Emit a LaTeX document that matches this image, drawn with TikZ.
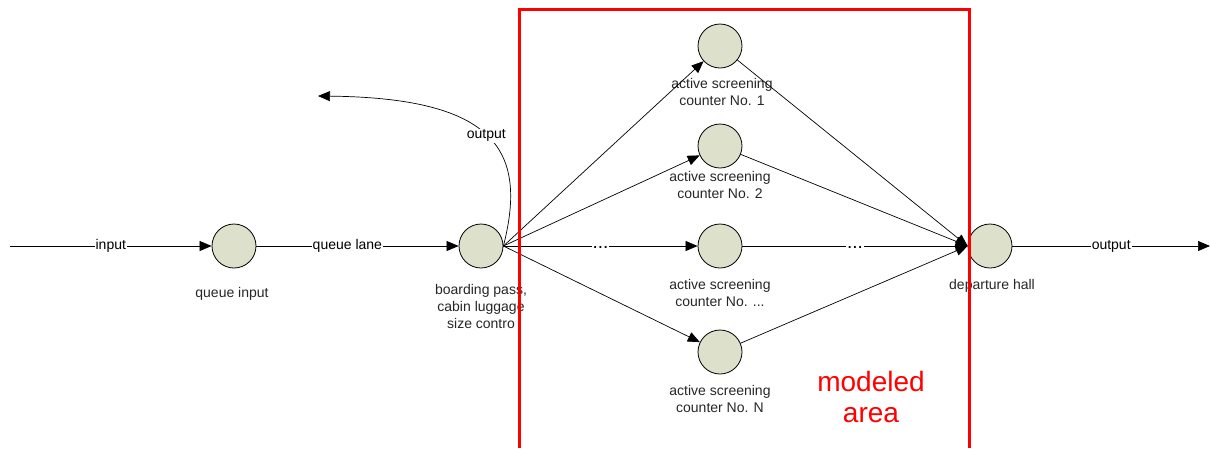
\documentclass[tikz,border=0pt]{standalone}
\usepackage{fontspec}
\setmainfont{Liberation Sans}
\usetikzlibrary{arrows.meta}
\definecolor{stationfill}{RGB}{221,224,203}
\definecolor{areared}{RGB}{255,0,0}
\begin{document}
\begin{tikzpicture}[x=1pt,y=-1pt,
  every node/.style={font=\fontsize{14}{17}\selectfont, inner sep=1pt},
  station/.style={circle, draw=black, line width=0.8pt, fill=stationfill, minimum size=44pt, inner sep=0pt},
  caption/.style={align=center, text=black!85},
  flow/.style={line width=0.7pt, -{Triangle[length=12pt,width=10pt]}},
  onlabel/.style={fill=white, inner sep=1pt},
  dots/.style={fill=white, inner sep=1pt, font=\fontsize{19}{19}\selectfont, yshift=-1pt}]
\useasboundingbox (0,0) rectangle (1210,448);

% stations
\node[station] (qin) at (234,246) {};
\node[station] (bp)  at (481,246) {};
\node[station] (c1)  at (720,46) {};
\node[station] (c2)  at (720,146) {};
\node[station] (c3)  at (720,246) {};
\node[station] (cn)  at (720,352) {};
\node[station] (dh)  at (990,246) {};

% captions
\node[caption] (tqin) at (232,294) {queue input};
\node[caption] (tbp) at (481,306) {boarding pass,\\cabin luggage\\size contro};
\node[caption] (tc1) at (722,92) {active screening\\counter No. 1};
\node[caption] (tc2) at (720,185) {active screening\\counter No. 2};
\node[caption] (tc3) at (720,293) {active screening\\counter No. ...};
\node[caption] (tcn) at (720,399) {active screening\\counter No. N};
\node[caption] (tdh) at (992,286) {departure hall};

% free ends
\coordinate (src) at (10,246);
\coordinate (sink) at (1210,246);
\coordinate (back) at (318,96);

% connectors
\draw[flow] (src) -- node[onlabel, pos=0.5] {input} (qin);
\draw[flow] (qin) -- node[onlabel, pos=0.45] {queue lane} (bp);
\draw[flow] (bp.east) .. controls (528,150) and (495,98) .. node[onlabel, pos=0.5] {output} (back);
\draw[flow] (bp.east) -- (c1);
\draw[flow] (bp.east) -- (c2);
\draw[flow] (bp.east) -- node[dots, pos=0.5] {...} (c3);
\draw[flow] (bp.east) -- (cn);
\draw[flow] (c1) -- (dh.west);
\draw[flow] (c2) -- (dh.west);
\draw[flow] (c3) -- node[dots, pos=0.5] {...} (dh.west);
\draw[flow] (cn) -- (dh.west);
\draw[flow] (dh) -- node[onlabel, pos=0.5] {output} (sink);

% modeled area frame
\draw[areared, line width=3pt] (519,448) -- (519,9) -- (969,9) -- (969,448);
\node[text=areared, font=\fontsize{28}{31}\selectfont, align=center] (area) at (871,397) {modeled\\area};
\end{tikzpicture}
\end{document}
